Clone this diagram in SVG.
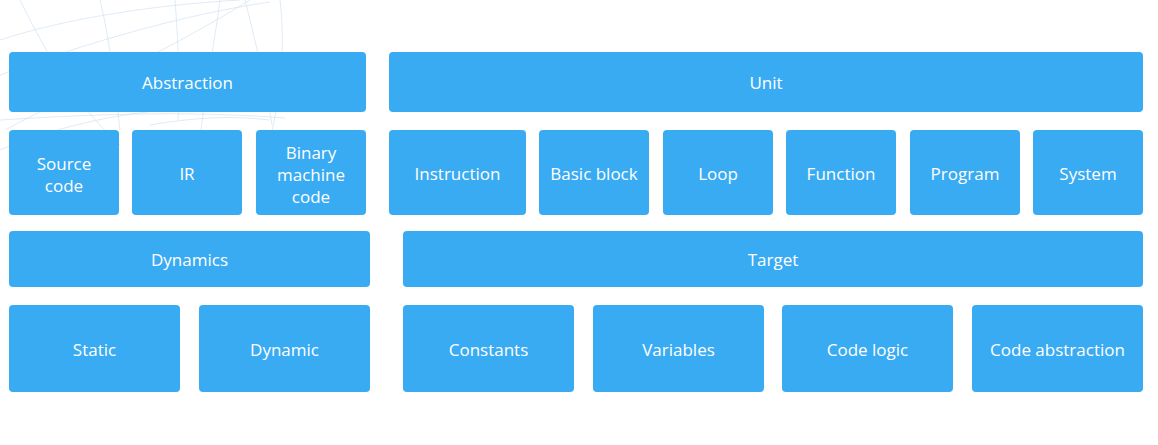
<svg xmlns="http://www.w3.org/2000/svg" width="1158" height="445" viewBox="0 0 1158 445">
<style>
.box{fill:#39abf3;}
.lbl{font-family:"Open Sans","Noto Sans","Liberation Sans",sans-serif;font-size:17px;fill:#ffffff;text-anchor:middle;}
.globe{fill:none;stroke:#c9ddef;stroke-width:1;opacity:0.6;}
</style>
<rect width="1158" height="445" fill="#ffffff"/>
<g id="globe-decoration">
<path class="globe" d="M0,40 C60,20 150,5 240,0"/>
<path class="globe" d="M0,75 C80,45 180,15 270,2"/>
<path class="globe" d="M5,130 C80,90 170,50 250,0"/>
<path class="globe" d="M20,0 C40,40 70,100 120,145"/>
<path class="globe" d="M100,0 C110,40 115,90 120,130"/>
<path class="globe" d="M175,0 C178,40 180,80 178,120"/>
<path class="globe" d="M220,0 C215,40 205,90 200,140"/>
<path class="globe" d="M245,0 C255,40 265,80 272,125"/>
<path class="globe" d="M280,0 C285,40 282,90 270,140"/>
<path class="globe" d="M0,120 C80,115 180,110 285,118"/>
<path class="globe" d="M0,150 C60,125 130,110 200,108"/>
<path class="globe" d="M150,125 C190,118 230,115 270,120"/>
</g>
<g id="connectors"></g>
<g id="abstraction"><rect class="box" x="9" y="52" width="357" height="60" rx="4"/><text class="lbl" x="187.5" y="89">Abstraction</text></g>
<g id="unit"><rect class="box" x="389" y="52" width="754" height="60" rx="4"/><text class="lbl" x="766" y="89">Unit</text></g>
<g id="source-code"><rect class="box" x="9" y="130" width="110" height="85" rx="4"/><text class="lbl" x="64" y="170">Source</text><text class="lbl" x="64" y="192">code</text></g>
<g id="ir"><rect class="box" x="132" y="130" width="110" height="85" rx="4"/><text class="lbl" x="187" y="180">IR</text></g>
<g id="binary-machine-code"><rect class="box" x="256" y="130" width="110" height="85" rx="4"/><text class="lbl" x="311" y="159">Binary</text><text class="lbl" x="311" y="181">machine</text><text class="lbl" x="311" y="203">code</text></g>
<g id="instruction"><rect class="box" x="389" y="130" width="137" height="85" rx="4"/><text class="lbl" x="457.5" y="180">Instruction</text></g>
<g id="basic-block"><rect class="box" x="539" y="130" width="110" height="85" rx="4"/><text class="lbl" x="594" y="180">Basic block</text></g>
<g id="loop"><rect class="box" x="663" y="130" width="110" height="85" rx="4"/><text class="lbl" x="718" y="180">Loop</text></g>
<g id="function"><rect class="box" x="786" y="130" width="110" height="85" rx="4"/><text class="lbl" x="841" y="180">Function</text></g>
<g id="program"><rect class="box" x="910" y="130" width="110" height="85" rx="4"/><text class="lbl" x="965" y="180">Program</text></g>
<g id="system"><rect class="box" x="1033" y="130" width="110" height="85" rx="4"/><text class="lbl" x="1088" y="180">System</text></g>
<g id="dynamics"><rect class="box" x="9" y="231" width="361" height="56" rx="4"/><text class="lbl" x="189.5" y="266">Dynamics</text></g>
<g id="target"><rect class="box" x="403" y="231" width="740" height="56" rx="4"/><text class="lbl" x="773" y="266">Target</text></g>
<g id="static"><rect class="box" x="9" y="305" width="171" height="87" rx="4"/><text class="lbl" x="94.5" y="356">Static</text></g>
<g id="dynamic"><rect class="box" x="199" y="305" width="171" height="87" rx="4"/><text class="lbl" x="284.5" y="356">Dynamic</text></g>
<g id="constants"><rect class="box" x="403" y="305" width="171" height="87" rx="4"/><text class="lbl" x="488.5" y="356">Constants</text></g>
<g id="variables"><rect class="box" x="593" y="305" width="171" height="87" rx="4"/><text class="lbl" x="678.5" y="356">Variables</text></g>
<g id="code-logic"><rect class="box" x="782" y="305" width="171" height="87" rx="4"/><text class="lbl" x="867.5" y="356">Code logic</text></g>
<g id="code-abstraction"><rect class="box" x="972" y="305" width="171" height="87" rx="4"/><text class="lbl" x="1057.5" y="356">Code abstraction</text></g>
</svg>
